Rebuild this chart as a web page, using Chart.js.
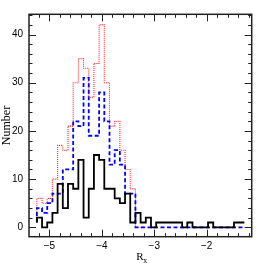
<!DOCTYPE html>
<html><head><meta charset="utf-8">
<script src="https://cdn.jsdelivr.net/npm/chart.js@4/dist/chart.umd.min.js"></script>
<style>html,body{margin:0;padding:0;background:#fff;}canvas{display:block;}</style>
</head><body>
<canvas id="c" width="266" height="266"></canvas>
<script>
// Histogram bins (left edge of first bin, right edge of last bin)
const binLo = -5.24;
const binHi = -1.28;
const nBins = 40;
// Counts per bin
const blackCounts = [1,2,0,1,3,9,4,9,8,14,2,8,15,14,8,8,6,5,7,1,3,1,2,0,1,1,1,1,1,0,1,0,0,0,1,0,0,0,0,1];
const blueCounts  = [1,4,3,5,7,7,12,12,22,21,31,19,19,28,22,13,16,13,7,7,0,0,0,0,0,0,0,0,0,0,0,0,0,0,0,0,0,0,0,0];
const redCounts   = [2,6,5,6,10,17,16,21,30,35,33,27,34,42,30,21,22,16,12,8,0];
// Axis ticks
const xMajorTicks = [-5,-4,-3,-2];
const yMajorTicks = [0,10,20,30,40];
const xMinorStep = 0.2, yMinorStep = 2;
const xRange = [-5.39,-1.14];
const yRange = [-1.95,44.2];

function edgeAt(i){ return binLo + i*(binHi-binLo)/nBins; }
function steps(counts){
  const pts = counts.map((v,i)=>({x:edgeAt(i), y:v}));
  pts.push({x:edgeAt(counts.length), y:counts[counts.length-1]});
  return pts;
}
const fmt = v => (v<0 ? '\u2212'+Math.abs(v) : String(v));

const frame = {
  id:'frame',
  afterDraw(chart){
    const ctx = chart.ctx, a = chart.chartArea, xs = chart.scales.x, ys = chart.scales.y;
    ctx.save();
    ctx.strokeStyle = '#222';
    ctx.lineWidth = 1;
    ctx.beginPath();
    for (let v = -5.2; v <= -1.15; v += xMinorStep){
      const r = Math.round(v*10)/10;
      const major = xMajorTicks.includes(r);
      const L = major ? 7 : 3.5;
      const px = Math.round(xs.getPixelForValue(r))+0.5;
      ctx.moveTo(px,a.bottom); ctx.lineTo(px,a.bottom-L);
      ctx.moveTo(px,a.top); ctx.lineTo(px,a.top+L);
    }
    for (let v = 0; v <= 44; v += yMinorStep){
      const major = yMajorTicks.includes(v);
      const L = major ? 7 : 3.5;
      const py = Math.round(ys.getPixelForValue(v))+0.5;
      ctx.moveTo(a.left,py); ctx.lineTo(a.left+L,py);
      ctx.moveTo(a.right,py); ctx.lineTo(a.right-L,py);
    }
    ctx.stroke();
    ctx.lineWidth = 1.5;
    ctx.strokeRect(a.left, a.top, a.right-a.left, a.bottom-a.top);
    ctx.fillStyle = '#000';
    ctx.font = '11px "Liberation Serif"';
    ctx.textBaseline = 'alphabetic';
    ctx.textAlign = 'left';
    const cx = (a.left+a.right)/2;
    ctx.fillText('R', cx-4, 260);
    ctx.font = '8px "Liberation Serif"';
    ctx.fillText('x', cx+3, 263);
    ctx.translate(10, (a.top+a.bottom)/2);
    ctx.rotate(-Math.PI/2);
    ctx.font = '12px "Liberation Serif"';
    ctx.textAlign = 'center';
    ctx.fillText('Number', 0, 0);
    ctx.restore();
  }
};

new Chart(document.getElementById('c'), {
  type:'line',
  data:{ datasets:[
    {label:'black', data:steps(blackCounts), borderColor:'#000', borderWidth:1.8, stepped:'after', pointRadius:0, fill:false},
    {label:'blue', data:steps(blueCounts), borderColor:'#0000ff', borderWidth:1.8, borderDash:[4,2.5], stepped:'after', pointRadius:0, fill:false},
    {label:'red', data:steps(redCounts), borderColor:'#ff2a2a', borderWidth:1.1, borderDash:[1,1], stepped:'after', pointRadius:0, fill:false}
  ]},
  options:{
    responsive:false, animation:false, devicePixelRatio:1,
    layout:{padding:{left:0,right:14.3,top:14.3,bottom:0}},
    plugins:{legend:{display:false}, tooltip:{enabled:false}},
    scales:{
      x:{type:'linear', min:xRange[0], max:xRange[1],
        afterBuildTicks(s){ s.ticks = xMajorTicks.map(v=>({value:v})); },
        afterFit(s){ s.height = 29.3; },
        grid:{display:false, drawTicks:false}, border:{display:false},
        ticks:{padding:4, color:'#000', font:{family:'"Liberation Sans"', size:10}, maxRotation:0, callback:v=>fmt(v)}
      },
      y:{type:'linear', min:yRange[0], max:yRange[1],
        afterBuildTicks(s){ s.ticks = yMajorTicks.map(v=>({value:v})); },
        afterFit(s){ s.width = 29; },
        grid:{display:false, drawTicks:false}, border:{display:false},
        ticks:{padding:6, color:'#000', font:{family:'"Liberation Sans"', size:10}, callback:v=>fmt(v)}
      }
    }
  },
  plugins:[frame]
});
</script>
</body></html>
